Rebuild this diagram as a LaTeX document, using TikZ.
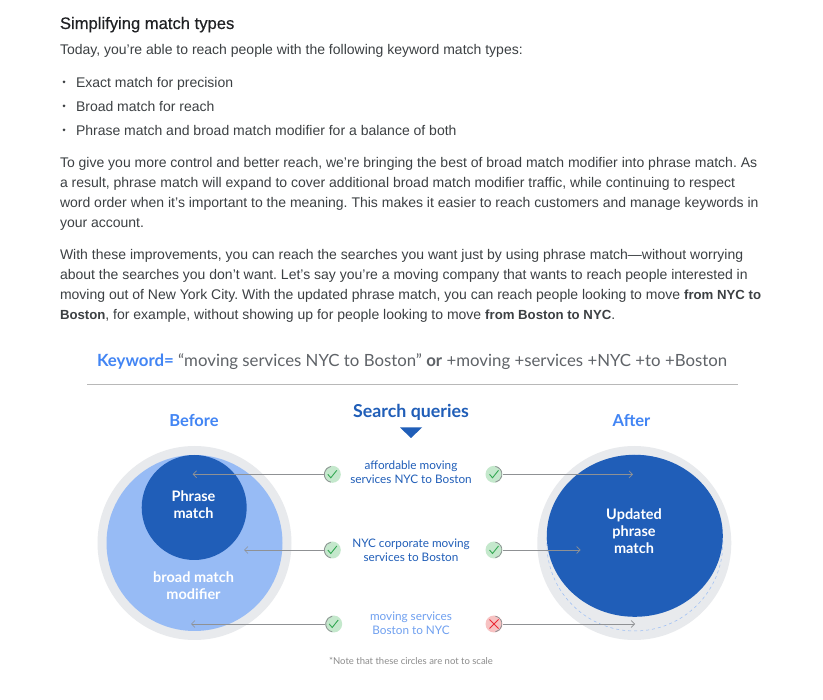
\documentclass[tikz,border=0pt]{standalone}
\usepackage{fontspec}
\setmainfont{Liberation Sans}
\newfontfamily\gs{Lato}
\newfontfamily\hd[FakeBold=0.35]{Liberation Sans}
\newcommand{\bd}[1]{{\bfseries\fontsize{13.2}{17}\selectfont #1}}
\usetikzlibrary{arrows.meta,shapes.geometric}
\definecolor{ink}{HTML}{3C4043}
\definecolor{head}{HTML}{202124}
\definecolor{gblue}{HTML}{4285F4}
\definecolor{dblue}{HTML}{205EB8}
\definecolor{lblue}{HTML}{97BBF5}
\definecolor{qlight}{HTML}{6FA0F0}
\definecolor{halo}{HTML}{E8EAED}
\definecolor{kgrey}{HTML}{5F6368}
\definecolor{rim}{HTML}{8F9194}
\definecolor{okfill}{HTML}{C4E8CC}
\definecolor{okink}{HTML}{34A853}
\definecolor{nofill}{HTML}{F7C2C2}
\definecolor{noink}{HTML}{EA2A35}
\tikzset{
  x=1pt,y=-1pt,
  every node/.style={inner sep=0pt,outer sep=0pt},
  body/.style={anchor=base west,text=ink,font=\frenchspacing\fontsize{14}{17}\selectfont},
  disc/.style={circle,minimum size=#1*2pt},
  inlabel/.style={align=center,text=white,font=\gs\bfseries\fontsize{14.5}{17}\selectfont},
  query/.style={align=center,font=\gs\fontsize{11.75}{13.7}\selectfont},
  side/.style={text=gblue,font=\gs\bfseries\fontsize{16.5}{18}\selectfont},
  conn/.style={draw=rim,line width=0.9pt,-{Straight Barb[length=3.5pt,width=7pt,line width=0.7pt]}},
  badge/.style={circle,minimum size=17pt},
  okL/.style={badge,fill=okfill,path picture={
    \draw[okink,line width=0.9pt] ([shift={(-4.5,0)}]path picture bounding box.center) -- ++(3,3.5) -- ++(6,-7.5);
    \draw[rim,line width=0.8pt] ([shift={(100:8)}]path picture bounding box.center) arc[start angle=100,end angle=260,radius=8];}},
  okR/.style={badge,fill=okfill,path picture={
    \draw[okink,line width=0.9pt] ([shift={(-4.5,0)}]path picture bounding box.center) -- ++(3,3.5) -- ++(6,-7.5);
    \draw[rim,line width=0.8pt] ([shift={(-80:8)}]path picture bounding box.center) arc[start angle=-80,end angle=80,radius=8];}},
  noR/.style={badge,fill=nofill,path picture={
    \draw[noink,line width=0.9pt] ([shift={(-4.5,-4.5)}]path picture bounding box.center) -- ++(9,9) ++(0,-9) -- ++(-9,9);
    \draw[rim,line width=0.8pt] ([shift={(-80:8)}]path picture bounding box.center) arc[start angle=-80,end angle=80,radius=8];}},
}
\begin{document}
\begin{tikzpicture}
\useasboundingbox (0,0) rectangle (823,700);
\fill[white] (0,0) rectangle (823,700);
% text block
\node[body,text=head,font=\hd\fontsize{16.6}{18}\selectfont] (title) at (60,29) {Simplifying match types};
\node[body] (intro) at (60,55) {Today, you’re able to reach people with the following keyword match types:};
\node[body] (b1) at (76,87.5) {Exact match for precision};
\node[body] (b2) at (76,111.5) {Broad match for reach};
\node[body] (b3) at (76,135.5) {Phrase match and broad match modifier for a balance of both};
\foreach \n/\y in {d1/82,d2/106,d3/130}
  \node[circle,fill=ink,minimum size=3pt] (\n) at (64,\y) {};
\node[body] (p1) at (60,167.5) {To give you more control and better reach, we’re bringing the best of broad match modifier into phrase match. As};
\node[body] (p2) at (60,187.5) {a result, phrase match will expand to cover additional broad match modifier traffic, while continuing to respect};
\node[body] (p3) at (60,207.5) {word order when it’s important to the meaning. This makes it easier to reach customers and manage keywords in};
\node[body] (p4) at (60,227.5) {your account.};
\node[body] (q1) at (60,259.5) {With these improvements, you can reach the searches you want just by using phrase match—without worrying};
\node[body] (q2) at (60,279.5) {about the searches you don’t want. Let’s say you’re a moving company that wants to reach people interested in};
\node[body] (q3) at (60,299.5) {moving out of New York City. With the updated phrase match, you can reach people looking to move \bd{from NYC to}};
\node[body] (q4) at (60,319.5) {\bd{Boston}, for example, without showing up for people looking to move \bd{from Boston to NYC}.};
% keyword line
\node[anchor=base west,font=\gs\fontsize{16.8}{20}\selectfont,text=kgrey] (kw) at (97,367) {{\bfseries\color{gblue}Keyword=} “moving services NYC to Boston” {\bfseries or} +moving +services +NYC +to +Boston};
\coordinate (ruleL) at (87,385);
\coordinate (ruleR) at (738,385);
\draw[draw=black!28,line width=1pt] (ruleL) -- (ruleR);
% headings
\node[side] (before) at (194,420) {Before};
\node[side] (after) at (631.5,420) {After};
\node[text=dblue,font=\gs\bfseries\fontsize{17.8}{20}\selectfont] (sq) at (411,412) {Search queries};
\fill[dblue] (400,427.5) -- (422,427.5) -- (411,438) -- cycle;
% circles
\node[disc=97,fill=halo] (haloL) at (194.5,543) {};
\node[disc=88,fill=lblue] (bmm) at (194.5,543) {};
\node[disc=52.5,fill=dblue] (pm) at (194.2,507.5) {};
\node[disc=97,fill=halo] (haloR) at (634.3,543) {};
\node[disc=88,draw=lblue,dashed,line width=0.5pt] (old) at (634.8,543) {};
\node[ellipse,minimum width=176pt,minimum height=162pt,fill=dblue] (upd) at (634.8,535.8) {};
\node[inlabel] (pml) at (193.5,504.5) {Phrase\\match};
\node[inlabel] (bml) at (193.5,585.5) {broad match\\modifier};
\node[inlabel] (upl) at (634,531) {Updated\\phrase\\match};
% queries
\node[query,text=dblue] (r1) at (411,472) {affordable moving\\services NYC to Boston};
\node[query,text=dblue] (r2) at (411,550) {NYC corporate moving\\services to Boston};
\node[query,text=qlight] (r3) at (411,623.5) {moving services\\Boston to NYC};
% badges
\node[okL] (l1) at (332.3,474.3) {};
\node[okL] (l2) at (332.3,550) {};
\node[okL] (l3) at (333.7,624) {};
\node[okR] (g1) at (494,474.3) {};
\node[okR] (g2) at (494,550) {};
\node[noR] (g3) at (494,624) {};
% arrow ends
\coordinate (tl1) at (192.7,474.3);
\coordinate (tl2) at (244,550);
\coordinate (tl3) at (191,624);
\coordinate (tr1) at (633,474.3);
\coordinate (tr2) at (580.7,550);
\coordinate (tr3) at (635,624);
\foreach \a/\b in {l1/tl1,l2/tl2,l3/tl3,g1/tr1,g2/tr2,g3/tr3}
  \draw[conn] (\a) -- (\b);
\node[text=black!45,font=\gs\fontsize{9.5}{11}\selectfont] (note) at (411,661) {*Note that these circles are not to scale};
\end{tikzpicture}
\end{document}
